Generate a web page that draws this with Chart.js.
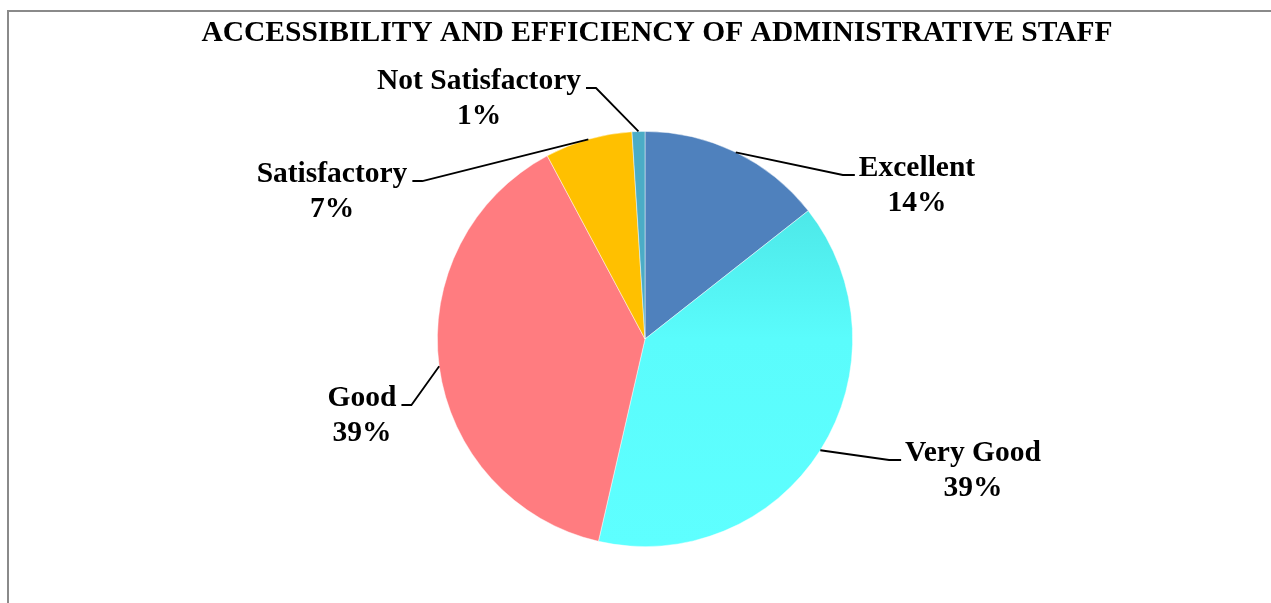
<!DOCTYPE html>
<html>
<head>
<meta charset="utf-8">
<title>Accessibility and efficiency of administrative staff</title>
<script src="https://cdn.jsdelivr.net/npm/chart.js@4.4.1/dist/chart.umd.min.js"></script>
<style>
  html, body { margin: 0; padding: 0; background: #fff; }
  #wrap { position: relative; width: 1271px; height: 603px; overflow: hidden; }
  #frame { position: absolute; left: 7px; top: 10px; right: -10px; bottom: -10px;
           border-left: 2px solid #8a8a8a; border-top: 2px solid #8a8a8a; }
  #my-chart { position: absolute; left: 0; top: 0; }
</style>
</head>
<body>
<div id="wrap">
  <div id="frame"></div>
  <canvas id="my-chart" width="1271" height="603"></canvas>
</div>
<script>
'use strict';

//**************DATA********** */
let chartTitle = 'ACCESSIBILITY AND EFFICIENCY OF ADMINISTRATIVE STAFF';
let categories = ['Excellent', 'Very Good', 'Good', 'Satisfactory', 'Not Satisfactory'];
let shares = [14.4, 39.2, 38.6, 6.8, 1.0];
let percentLabels = ['14%', '39%', '39%', '7%', '1%'];

//**************STYLE / LAYOUT********** */
let sliceColors = ['#4f81bd', null, '#ff7c80', '#ffc000', '#4bacc6'];
let labelFont = 'bold 29.5px "Liberation Serif", "Times New Roman", serif';

// where each label's first line is centred, and which side the leader comes from
let labelLayout = [
  { x: 917, y: 168, side: 'left' },
  { x: 973, y: 453, side: 'left' },
  { x: 362, y: 398, side: 'right' },
  { x: 332, y: 174, side: 'right' },
  { x: 479, y: 81, side: 'right' }
];

//*************CYAN GRADIENT********* */
function cyanFill(context) {
  let area = context.chart.chartArea;
  if (!area) return '#55f5f5';
  let g = context.chart.ctx.createLinearGradient(0, area.top, 0, area.bottom);
  g.addColorStop(0, '#45dcdc');
  g.addColorStop(0.5, '#5afcfc');
  g.addColorStop(1, '#5effff');
  return g;
}

//*************LABEL PLUGIN********* */
let labelPlugin = {
  id: 'labelPlugin',
  afterDatasetsDraw(chart) {
    let ctx = chart.ctx;
    let meta = chart.getDatasetMeta(0);
    ctx.save();

    // title
    ctx.font = labelFont;
    ctx.fillStyle = '#000';
    ctx.textAlign = 'center';
    ctx.textBaseline = 'middle';
    ctx.fillText(chartTitle, 657, 33);

    for (let i = 0; i < meta.data.length; i++) {
      let arc = meta.data[i];
      let mid = (arc.startAngle + arc.endAngle) / 2;
      let sx = arc.x + Math.cos(mid) * arc.outerRadius;
      let sy = arc.y + Math.sin(mid) * arc.outerRadius;
      let pos = labelLayout[i];

      ctx.font = labelFont;
      let w = ctx.measureText(categories[i]).width;
      let stubY = pos.y + 7;
      let x1, x2;
      if (pos.side === 'left') {
        x2 = pos.x - w / 2 - 4;
        x1 = x2 - 12;
      } else {
        x2 = pos.x + w / 2 + 5;
        x1 = x2 + 10;
      }

      ctx.strokeStyle = '#000';
      ctx.lineWidth = 1.8;
      ctx.beginPath();
      ctx.moveTo(sx, sy);
      ctx.lineTo(x1, stubY);
      ctx.lineTo(x2, stubY);
      ctx.stroke();

      ctx.fillStyle = '#000';
      ctx.fillText(categories[i], pos.x, pos.y);
      ctx.fillText(percentLabels[i], pos.x, pos.y + 35);
    }
    ctx.restore();
  }
};

//*************CHART********* */
let ctx = document.getElementById('my-chart');

let chartObj = {
  type: 'pie',
  data: {
    labels: categories,
    datasets: [{
      data: shares,
      backgroundColor: function (context) {
        if (context.dataIndex === 1) return cyanFill(context);
        return sliceColors[context.dataIndex];
      },
      borderColor: 'rgba(255,255,255,0.6)',
      borderWidth: 0.75
    }]
  },
  options: {
    responsive: false,
    animation: false,
    rotation: 0,
    layout: {
      padding: { top: 131, bottom: 56, left: 19, right: 0 }
    },
    plugins: {
      legend: { display: false },
      title: { display: false },
      tooltip: { enabled: false }
    }
  },
  plugins: [labelPlugin]
};

new Chart(ctx, chartObj);
</script>
</body>
</html>
